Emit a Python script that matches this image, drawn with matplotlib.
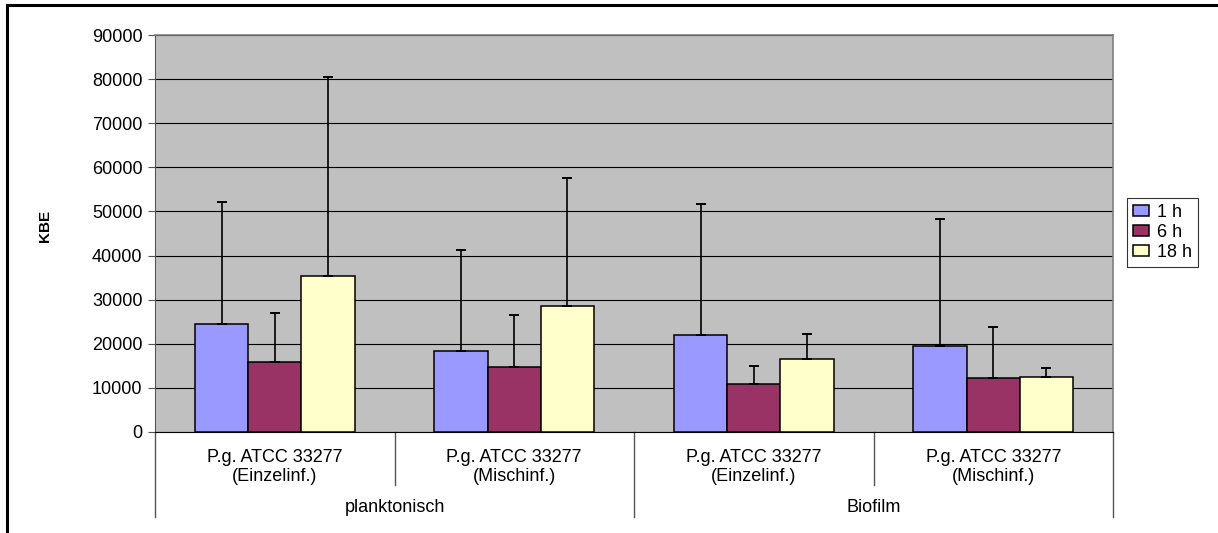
import numpy as np
import matplotlib
matplotlib.use('Agg')
import matplotlib.pyplot as plt
from matplotlib.lines import Line2D

plt.rcParams['font.family'] = ['Liberation Sans', 'DejaVu Sans']

categories = ['P.g. ATCC 33277\n(Einzelinf.)', 'P.g. ATCC 33277\n(Mischinf.)',
              'P.g. ATCC 33277\n(Einzelinf.)', 'P.g. ATCC 33277\n(Mischinf.)']
groups = ['planktonisch', 'Biofilm']
series = ['1 h', '6 h', '18 h']
colors = ['#9999FF', '#993366', '#FFFFCC']

# mean values per series (one value per category)
vals_1h = [24400, 18300, 21900, 19600]
vals_6h = [15800, 14700, 10800, 12250]
vals_18h = [35300, 28500, 16500, 12400]
# upper end of the error bars
top_1h = [52100, 41300, 51700, 48400]
top_6h = [27000, 26600, 15000, 23700]
top_18h = [80500, 57500, 22300, 14500]

values = [vals_1h, vals_6h, vals_18h]
tops = [top_1h, top_6h, top_18h]

W, H = 1218, 533
fs = 13
fig = plt.figure(figsize=(W / 100, H / 100), dpi=100)
ax = fig.add_axes([155 / W, 1 - 432 / H, (1113 - 155) / W, (432 - 35) / H])
ax.set_facecolor('#C0C0C0')

x = np.arange(len(categories))
bw = 1 / 4.5
for i, (v, t) in enumerate(zip(values, tops)):
    pos = x + (i - 1) * bw
    v = np.array(v)
    err = np.array(t) - v
    ax.bar(pos, v, width=bw, color=colors[i], edgecolor='black', linewidth=1.1,
           label=series[i], zorder=3)
    ax.errorbar(pos, v, yerr=[np.zeros_like(err), err], fmt='none', ecolor='black',
                elinewidth=1.2, capsize=3.5, capthick=1.4, zorder=4)

ax.set_xlim(-0.5, len(categories) - 0.5)
ax.set_ylim(0, 90000)
ax.set_yticks(np.arange(0, 90001, 10000))
ax.set_yticklabels([str(v) for v in range(0, 90001, 10000)], fontsize=fs)
ax.yaxis.grid(True, color='black', linewidth=0.8, zorder=1)
ax.set_axisbelow(True)
ax.tick_params(axis='y', length=5, width=0.8, color='#555555', pad=4)
ax.set_xticks([])
for s in ['top', 'right']:
    ax.spines[s].set_color('#808080')
    ax.spines[s].set_linewidth(1.2)
ax.spines['left'].set_color('#555555')
ax.spines['bottom'].set_color('black')

ax.set_ylabel('KBE', fontsize=11, fontweight='bold')
ax.yaxis.set_label_coords((52 - 155) / 958, (432 - 226) / 397)

# two-level category axis
trans = ax.get_xaxis_transform()
px = 1 / (432 - 35)
for k in range(len(categories) + 1):
    xe = k - 0.5
    full = k % 2 == 0
    y_end = -(517 - 432) * px if full else -(485 - 432) * px
    ax.add_line(Line2D([xe, xe], [0, y_end], transform=trans, color='#555555',
                       linewidth=1.0, clip_on=False))
for k, lab in enumerate(categories):
    ax.text(k, -(467 - 432) * px, lab, transform=trans, ha='center', va='center',
            fontsize=fs, linespacing=1.15)
for g, lab in enumerate(groups):
    ax.text(2 * g + 0.5, -(508 - 432) * px, lab, transform=trans, ha='center',
            va='center', fontsize=fs)

leg = fig.legend(loc='upper left', bbox_to_anchor=(1127 / W, 1 - 198 / H),
                 fontsize=fs, frameon=True, fancybox=False, handlelength=0.85,
                 handleheight=0.55, handletextpad=0.45, borderpad=0.35,
                 labelspacing=0.15, borderaxespad=0)
leg.get_frame().set_edgecolor('black')
leg.get_frame().set_linewidth(0.8)

# outer border (left and top only, as in the reference)
fig.add_artist(Line2D([7 / W, 7 / W], [0, 1 - 5 / H], color='black', linewidth=2.2))
fig.add_artist(Line2D([7 / W, 1], [1 - 5 / H, 1 - 5 / H], color='black', linewidth=2.2))

fig.savefig('out.png', dpi=100)
